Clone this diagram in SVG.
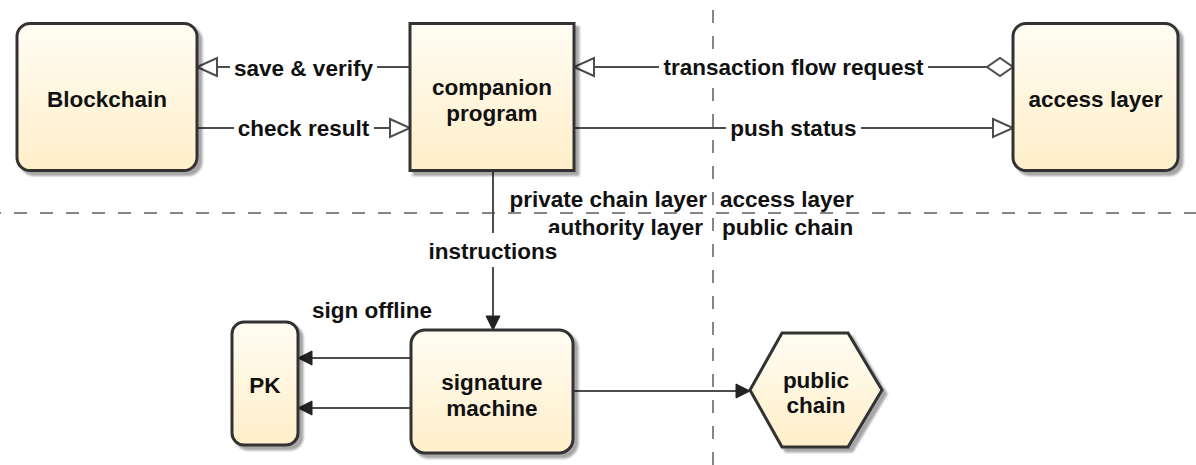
<svg xmlns="http://www.w3.org/2000/svg" width="1196" height="465" viewBox="0 0 1196 465">
  <defs>
    <linearGradient id="cream" x1="0" y1="0" x2="0" y2="1">
      <stop offset="0" stop-color="#fffcf3"/>
      <stop offset="1" stop-color="#ffefc9"/>
    </linearGradient>
    <filter id="shadow" x="-10%" y="-10%" width="130%" height="130%">
      <feGaussianBlur in="SourceAlpha" stdDeviation="1.2" result="b"/>
      <feOffset in="b" dx="4" dy="4" result="o"/>
      <feComponentTransfer in="o" result="s">
        <feFuncA type="linear" slope="0.35"/>
      </feComponentTransfer>
      <feMerge>
        <feMergeNode in="s"/>
        <feMergeNode in="SourceGraphic"/>
      </feMerge>
    </filter>
    <!-- open triangle head -->
    <marker id="openTri" markerUnits="userSpaceOnUse" markerWidth="22" markerHeight="20" refX="20" refY="9" orient="auto" overflow="visible">
      <path d="M0,0 L20,9 L0,18 Z" fill="#ffffff" stroke="#4d4d4d" stroke-width="2" stroke-linejoin="miter"/>
    </marker>
    <!-- open diamond tail -->
    <marker id="openDiamond" markerUnits="userSpaceOnUse" markerWidth="28" markerHeight="20" refX="0" refY="9" orient="auto" overflow="visible">
      <path d="M0,9 L13,0 L26,9 L13,18 Z" fill="#ffffff" stroke="#4d4d4d" stroke-width="2"/>
    </marker>
    <!-- filled triangle head -->
    <marker id="solidTri" markerUnits="userSpaceOnUse" markerWidth="16" markerHeight="16" refX="14" refY="7" orient="auto" overflow="visible">
      <path d="M0,0 L14,7 L0,14 Z" fill="#222222" stroke="#222222" stroke-width="1"/>
    </marker>
    <style>
      .node { fill: url(#cream); stroke: #333333; stroke-width: 3; filter: url(#shadow); }
      .label { font-family: "Liberation Sans", Arial, Helvetica, sans-serif; font-weight: bold; font-size: 22.5px; fill: #111111; }
      .mid { text-anchor: middle; }
      .end { text-anchor: end; }
      .edge { fill: none; stroke: #4d4d4d; stroke-width: 2; }
      .bg { fill: #ffffff; }
      .divider { fill: none; stroke: #858585; stroke-width: 2; stroke-dasharray: 13 13; }
    </style>
  </defs>

  <rect width="1196" height="465" fill="#ffffff"/>

  <!-- layer dividers -->
  <g id="dividers">
    <line class="divider" x1="713" y1="10" x2="713" y2="465"/>
    <line class="divider" x1="0" y1="213" x2="1196" y2="213" stroke-dashoffset="12"/>
  </g>

  <!-- layer captions -->
  <g id="layer-captions" class="label">
    <text class="end" x="707" y="207">private chain layer</text>
    <text x="720" y="207">access layer</text>
    <text class="end" x="703" y="235">authority layer</text>
    <text x="722" y="235">public chain</text>
  </g>

  <!-- connectors -->
  <g id="connectors">
    <line class="edge" x1="410" y1="67" x2="197" y2="67" marker-end="url(#openTri)"/>
    <line class="edge" x1="197" y1="128" x2="410" y2="128" marker-end="url(#openTri)"/>
    <line class="edge" x1="1013" y1="67" x2="574" y2="67" marker-start="url(#openDiamond)" marker-end="url(#openTri)"/>
    <line class="edge" x1="574" y1="128" x2="1013" y2="128" marker-end="url(#openTri)"/>
    <line class="edge" x1="493" y1="171" x2="493" y2="330" stroke="#333333" marker-end="url(#solidTri)"/>
    <line class="edge" x1="411" y1="358" x2="298" y2="358" marker-end="url(#solidTri)"/>
    <line class="edge" x1="411" y1="408" x2="298" y2="408" marker-end="url(#solidTri)"/>
    <line class="edge" x1="573" y1="391" x2="750" y2="391" marker-end="url(#solidTri)"/>

    <g class="label mid">
      <rect class="bg" x="230" y="55" width="147" height="26"/>
      <text x="303.5" y="76">save &amp; verify</text>
      <rect class="bg" x="234" y="116" width="140" height="26"/>
      <text x="303.5" y="136">check result</text>
      <rect class="bg" x="659" y="55" width="269" height="26"/>
      <text x="793.5" y="75">transaction flow request</text>
      <rect class="bg" x="726" y="116" width="135" height="26"/>
      <text x="793.5" y="136">push status</text>
      <rect class="bg" x="425" y="233" width="136" height="34"/>
      <text x="493" y="259">instructions</text>
      <text x="372" y="318">sign offline</text>
    </g>
  </g>

  <!-- nodes -->
  <g id="blockchain">
    <rect class="node" x="17" y="23.5" width="180" height="147" rx="13"/>
    <text class="label mid" x="107" y="107">Blockchain</text>
  </g>

  <g id="companion-program">
    <rect class="node" x="410" y="23.5" width="164" height="147"/>
    <text class="label mid" x="492" y="95">companion</text>
    <text class="label mid" x="492" y="121">program</text>
  </g>

  <g id="access-layer">
    <rect class="node" x="1013" y="23.5" width="165" height="147" rx="13"/>
    <text class="label mid" x="1095.5" y="107">access layer</text>
  </g>

  <g id="pk">
    <rect class="node" x="232" y="322" width="66" height="123" rx="12"/>
    <text class="label mid" x="265" y="393">PK</text>
  </g>

  <g id="signature-machine">
    <rect class="node" x="411" y="330" width="162" height="123" rx="14"/>
    <text class="label mid" x="492" y="390">signature</text>
    <text class="label mid" x="492" y="416">machine</text>
  </g>

  <g id="public-chain">
    <polygon class="node" points="750,390 782,333 848,333 882,390 848,447 782,447"/>
    <text class="label mid" x="816" y="388">public</text>
    <text class="label mid" x="816" y="413">chain</text>
  </g>
</svg>
